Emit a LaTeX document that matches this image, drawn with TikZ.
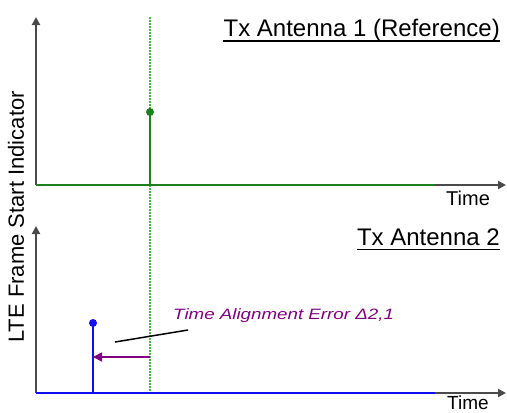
\documentclass[tikz,border=0pt]{standalone}
\usepackage{fontspec}
\setmainfont{Liberation Sans}
\usepackage{graphicx}
\usetikzlibrary{arrows.meta,calc}
\definecolor{axisgray}{HTML}{4A4A4A}
\definecolor{sigGreen}{HTML}{1E7F1E}
\definecolor{dotGreen}{HTML}{4FAF4F}
\definecolor{sigBlue}{HTML}{1010F0}
\definecolor{errPurple}{HTML}{800080}
\tikzset{
  axisline/.style={draw=axisgray, line width=2bp, -{Triangle[length=8bp,width=8bp]}},
  greenline/.style={draw=sigGreen, line width=2bp},
  blueline/.style={draw=sigBlue, line width=2bp},
  refline/.style={draw=dotGreen, line width=1.8bp, dash pattern=on 1.6bp off 1.4bp},
  title/.style={inner sep=0pt, anchor=base east, font=\fontsize{24bp}{28bp}\selectfont},
  timelabel/.style={inner sep=0pt, anchor=base west, font=\fontsize{20bp}{24bp}\selectfont},
  uline/.style={draw=black, line width=1.5bp},
}
\begin{document}
\begin{tikzpicture}[x=1bp,y=-1bp]
\useasboundingbox[fill=white] (0,0) rectangle (507,412);
% coordinates
\coordinate (o1) at (36,185);
\coordinate (y1) at (36,17);
\coordinate (x1) at (506,185);
\coordinate (g1) at (435,185);
\coordinate (o2) at (36,393);
\coordinate (y2) at (36,226);
\coordinate (x2) at (506,393);
\coordinate (b2) at (435,393);
\coordinate (rtop) at (150,17);
\coordinate (rbot) at (150,393);
\coordinate (s1b) at (150,185);
\coordinate (s1t) at (150,112);
\coordinate (s2b) at (93,393);
\coordinate (s2t) at (93,323);
\coordinate (ea) at (150,357);
\coordinate (eb) at (93,357);
\coordinate (la) at (115,342);
\coordinate (lb) at (188,330);
% reference dotted line
\draw[refline] (rtop) -- (rbot);
% axes top
\draw[axisline] (o1) -- (y1);
\draw[axisline] (o1) -- (x1);
\draw[greenline] (o1) -- (g1);
\draw[greenline] (s1b) -- (s1t);
\fill[sigGreen] (s1t) circle (4bp);
% axes bottom
\draw[axisline] (o2) -- (y2);
\draw[axisline] (o2) -- (x2);
\draw[blueline] (o2) -- (b2);
\draw[blueline] (s2b) -- (s2t);
\fill[sigBlue] (s2t) circle (4bp);
% error arrow
\draw[draw=errPurple, line width=1.6bp, -{Triangle[length=9bp,width=9bp]}] (ea) -- (eb);
\draw[black, line width=1.5bp] (la) -- (lb);
% texts
\node[title] (t1) at (500,36) {Tx Antenna 1 (Reference)};
\draw[uline] ($(t1.base west)+(0,5)$) -- ($(t1.base east)+(0,5)$);
\node[title] (t2) at (500,245) {Tx Antenna 2};
\draw[uline] ($(t2.base west)+(0,4.5)$) -- ($(t2.base east)+(0,4.5)$);
\node[timelabel] (time1) at (446,205) {Time};
\node[timelabel, font=\fontsize{19bp}{22bp}\selectfont] (time2) at (447,409.5) {Time};
\node[rotate=90, inner sep=0pt, font=\fontsize{22bp}{26bp}\selectfont] (ylab) at (16,217) {LTE Frame Start Indicator};
\node[inner sep=0pt, anchor=base west, text=errPurple, font=\fontsize{15bp}{18bp}\selectfont\itshape] (err) at (173,319) {\scalebox{1.25}[1]{Time Alignment Error Δ2,1}};
\end{tikzpicture}
\end{document}
